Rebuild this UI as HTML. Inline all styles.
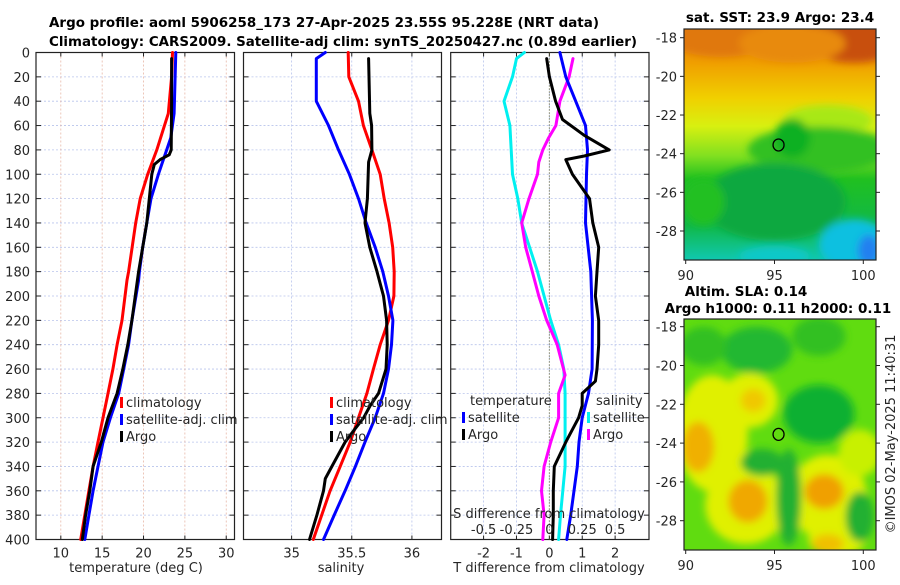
<!DOCTYPE html>
<html><head><meta charset="utf-8">
<style>
html,body{margin:0;padding:0;background:#fff;}
svg text{font-family:"DejaVu Sans","Liberation Sans",sans-serif;fill:#262626;}
.b{font-weight:bold;fill:#000;}
</style></head>
<body>
<svg id="chart" xmlns="http://www.w3.org/2000/svg" width="900" height="580" viewBox="0 0 900 580">
<defs>
<filter id="blur6" x="-50%" y="-50%" width="200%" height="200%"><feGaussianBlur stdDeviation="7"/></filter>
<filter id="blur3" x="-50%" y="-50%" width="200%" height="200%"><feGaussianBlur stdDeviation="4"/></filter>
<clipPath id="clipMap1"><rect x="684" y="29" width="192" height="231"/></clipPath>
<clipPath id="clipMap2"><rect x="684" y="319" width="192" height="231"/></clipPath>
<linearGradient id="sstGrad" x1="0" y1="0" x2="0" y2="1">
<stop offset="0" stop-color="#e8800a"/>
<stop offset="0.15" stop-color="#f0a000"/>
<stop offset="0.3" stop-color="#f0d000"/>
<stop offset="0.42" stop-color="#d8f010"/>
<stop offset="0.55" stop-color="#80e020"/>
<stop offset="0.65" stop-color="#20c020"/>
<stop offset="0.85" stop-color="#10b848"/>
<stop offset="1" stop-color="#10c8b0"/>
</linearGradient>
</defs>
<text class="b" x="324" y="27" font-size="13.5" text-anchor="middle" textLength="550" lengthAdjust="spacingAndGlyphs">Argo profile: aoml 5906258_173 27-Apr-2025 23.55S 95.228E (NRT data)</text>
<text class="b" x="343" y="46" font-size="13.5" text-anchor="middle" textLength="588" lengthAdjust="spacingAndGlyphs">Climatology: CARS2009. Satellite-adj clim: synTS_20250427.nc (0.89d earlier)</text>
<g id="plots"></g>
<g id="maps"></g>
</svg>
<script>
// ---------- DATA ----------
const depthTicks = [0,20,40,60,80,100,120,140,160,180,200,220,240,260,280,300,320,340,360,380,400];
const tempTicks = [10,15,20,25,30];
const salTicks = [35,35.5,36];
const tdiffTicks = [-2,-1,0,1,2];
const sdiffTickLabels = ["-0.5","-0.25","0","0.25","0.5"];
const sdiffTicks = [-0.5,-0.25,0,0.25,0.5];

const climDepth = [0,20,50,80,100,120,140,180,187,220,240,260,280,300,320,340,360,380,400];
const climTemp  = [23.5,23.4,23.0,21.6,20.5,19.6,19.05,18.2,18.0,17.4,16.8,16.3,15.7,15.1,14.5,13.9,13.4,12.9,12.4];

const satTDepth = [0,50,70,80,90,100,120,140,160,180,187,220,240,260,280,300,320,340,360,380,400];
const satTemp   = [23.9,23.7,23.3,22.8,22.3,21.8,20.9,20.4,19.9,19.5,19.4,18.6,18.2,17.6,17.0,16.0,15.1,14.5,13.9,13.4,12.9];

const argoTDepth = [5,40,80,84,88,92,100,120,140,160,180,220,240,260,280,300,320,340,360,380,400];
const argoTemp   = [23.4,23.4,23.35,23.1,22.0,21.3,21.0,20.7,20.4,19.9,19.4,18.6,18.1,17.5,16.8,15.7,14.9,13.9,13.5,13.0,12.6];

const climSDepth = [0,20,40,60,80,100,120,140,160,180,200,220,240,260,280,300,320,340,360,380,400];
const climSal    = [35.47,35.475,35.556,35.597,35.667,35.736,35.77,35.81,35.84,35.853,35.85,35.805,35.736,35.68,35.626,35.556,35.487,35.404,35.32,35.25,35.18];

const satSDepth = [0,5,40,60,80,100,120,140,160,180,200,220,240,260,280,300,320,340,360,380,400];
const satSal    = [35.28,35.205,35.205,35.307,35.39,35.48,35.556,35.62,35.695,35.758,35.805,35.842,35.83,35.805,35.764,35.695,35.61,35.53,35.445,35.354,35.265];

const argoSDepth = [5,50,60,80,90,120,140,160,180,200,220,240,260,280,290,300,310,320,340,350,360,380,400];
const argoSal    = [35.64,35.65,35.665,35.667,35.64,35.63,35.61,35.65,35.71,35.764,35.79,35.795,35.785,35.722,35.653,35.598,35.52,35.445,35.335,35.28,35.265,35.21,35.149];

const satTdDepth = [0,20,40,60,80,100,140,180,220,260,280,300,320,340,360,380,400];
const satTdiff   = [0.32,0.5,0.8,1.1,1.16,1.13,1.1,1.26,1.31,1.3,1.19,1.0,0.9,0.85,0.75,0.65,0.53];

const argoTdDepth = [5,20,40,55,68,80,85,88,100,120,140,160,180,200,220,240,260,270,280,290,300,320,340,360,380,400];
const argoTdiff   = [-0.08,0.0,0.19,0.4,1.06,1.82,1.06,0.5,0.7,1.22,1.32,1.5,1.45,1.4,1.5,1.5,1.45,1.4,1.0,1.0,0.89,0.5,0.15,0.12,0.12,0.1];

const satSdDepth = [0,5,20,40,60,80,100,120,140,160,180,200,220,240,260,280,300,340,380,400];
const satSdiff   = [-0.19,-0.25,-0.28,-0.345,-0.3,-0.29,-0.28,-0.24,-0.21,-0.15,-0.09,-0.04,0.01,0.07,0.11,0.12,0.12,0.12,0.085,0.07];

const argoSdDepth = [5,20,40,60,70,80,90,100,120,140,160,180,200,220,240,265,280,300,320,340,360,380,400];
const argoSdiff   = [0.18,0.15,0.08,0.05,-0.005,-0.05,-0.08,-0.09,-0.155,-0.21,-0.18,-0.13,-0.08,-0.02,0.06,0.12,0.07,0.07,0.01,-0.04,-0.06,-0.04,-0.05];

// ---------- HELPERS ----------
const NS = "http://www.w3.org/2000/svg";
const plots = document.getElementById('plots');
function mk(tag, attrs, parent){
  const e = document.createElementNS(NS, tag);
  for (const k in attrs) e.setAttribute(k, attrs[k]);
  (parent||plots).appendChild(e);
  return e;
}
const TOP = 52.5, BOT = 539.5;
function yDepth(d){ return TOP + d*(BOT-TOP)/400; }

function panel(name, x0, x1, xmin, xmax){
  const g = mk('g', {});
  
  
  const xs = v => x0 + (v-xmin)*(x1-x0)/(xmax-xmin);
  return {g, xs, x0, x1};
}

function frame(p, xticks, xlabels, gridColor, showDepthLabels){
  depthTicks.forEach(d => {
    if (d===0||d===400) return;
    const l = mk('line', {x1:p.x0, x2:p.x1, y1:yDepth(d), y2:yDepth(d), stroke:'#b8c4ec', 'stroke-width':0.8, 'stroke-dasharray':'2,2'}, p.g);
    
    
  });
  xticks.forEach((v,i) => {
    const x = p.xs(v);
    const l = mk('line', {x1:x, x2:x, y1:TOP, y2:BOT, stroke:gridColor, 'stroke-width':0.8, 'stroke-dasharray':'2,2'}, p.g);
    
    
    mk('line', {x1:x, x2:x, y1:BOT, y2:BOT-4, stroke:'#222', 'stroke-width':1}, p.g);
    mk('line', {x1:x, x2:x, y1:TOP, y2:TOP+4, stroke:'#222', 'stroke-width':1}, p.g);
    if (xlabels){
      const t = mk('text', {x:x, y:BOT+18, 'font-size':13, 'text-anchor':'middle'}, p.g);
      t.textContent = xlabels[i];
      
      
    }
  });
  depthTicks.forEach(d => {
    const y = yDepth(d);
    mk('line', {x1:p.x0, x2:p.x0+5, y1:y, y2:y, stroke:'#222', 'stroke-width':1}, p.g);
    mk('line', {x1:p.x1, x2:p.x1-5, y1:y, y2:y, stroke:'#222', 'stroke-width':1}, p.g);
    if (showDepthLabels){
      const t = mk('text', {x:30, y:y+5, 'font-size':13, 'text-anchor':'end'}, p.g);
      t.textContent = d;
      
      
    }
  });
  const r = mk('rect', {x:p.x0, y:TOP, width:p.x1-p.x0, height:BOT-TOP, fill:'none', stroke:'#222', 'stroke-width':1.2}, p.g);
  
  
}

function series(p, depths, vals, color, name, scale){
  const sc = scale||1;
  const pts = depths.map((d,i)=> p.xs(vals[i]*sc).toFixed(1)+','+yDepth(d).toFixed(1)).join(' ');
  const l = mk('polyline', {points:pts, fill:'none', stroke:color, 'stroke-width':3, 'stroke-linejoin':'round', 'stroke-linecap':'round'}, p.g);
  
  
}

function legendItem(g, x, y, color, label, name){
  const r = mk('rect', {x:x, y:y-10, width:3, height:11, fill:color}, g);
  
  
  const t = mk('text', {x:x+6, y:y, 'font-size':13}, g);
  t.textContent = label;
  
  
}
function label(g, x, y, txt, name, anchor, size){
  const t = mk('text', {x:x, y:y, 'font-size':size||13, 'text-anchor':anchor||'middle'}, g);
  t.textContent = txt;
  
  
  return t;
}

// ---------- PANEL 1: temperature ----------
const p1 = panel('temperature-panel', 36, 234.5, 7, 31);
frame(p1, tempTicks, tempTicks.map(String), '#e8b8a8', true);
series(p1, climDepth, climTemp, '#ff0000', 'climatology-temperature-line');
series(p1, satTDepth, satTemp, '#0000ff', 'satellite-temperature-line');
series(p1, argoTDepth, argoTemp, '#000000', 'argo-temperature-line');
legendItem(p1.g, 120, 407, '#ff0000', 'climatology', 'legend-climatology');
legendItem(p1.g, 120, 424, '#0000ff', 'satellite-adj. clim', 'legend-satellite');
legendItem(p1.g, 120, 441, '#000000', 'Argo', 'legend-argo');
label(p1.g, 136, 572, 'temperature (deg C)', 'x-axis-title-temperature');

// ---------- PANEL 2: salinity ----------
const p2 = panel('salinity-panel', 243.5, 441.5, 34.6, 36.246);
frame(p2, salTicks, salTicks.map(String), '#b8c4ec', false);
series(p2, climSDepth, climSal, '#ff0000', 'climatology-salinity-line');
series(p2, satSDepth, satSal, '#0000ff', 'satellite-salinity-line');
series(p2, argoSDepth, argoSal, '#000000', 'argo-salinity-line');
legendItem(p2.g, 330, 407, '#ff0000', 'climatology', 'legend-climatology');
legendItem(p2.g, 330, 424, '#0000ff', 'satellite-adj. clim', 'legend-satellite');
legendItem(p2.g, 330, 441, '#000000', 'Argo', 'legend-argo');
label(p2.g, 341, 572, 'salinity', 'x-axis-title-salinity');

// ---------- PANEL 3: differences ----------
const p3 = panel('difference-panel', 450.7, 649, -3, 3.03);
frame(p3, tdiffTicks, tdiffTicks.map(String), '#b8c4ec', false);
const zl = mk('line', {x1:p3.xs(0), x2:p3.xs(0), y1:TOP, y2:BOT, stroke:'#555522', 'stroke-width':1, 'stroke-dasharray':'1,2'}, p3.g);


series(p3, satSdDepth, satSdiff, '#00f0f0', 'satellite-salinity-diff-line', 4);
series(p3, argoSdDepth, argoSdiff, '#ff00ff', 'argo-salinity-diff-line', 4);
series(p3, satTdDepth, satTdiff, '#0000ff', 'satellite-temperature-diff-line');
series(p3, argoTdDepth, argoTdiff, '#000000', 'argo-temperature-diff-line');
label(p3.g, 470, 405, 'temperature', 'legend-temperature-header', 'start');
label(p3.g, 596, 405, 'salinity', 'legend-salinity-header', 'start');
legendItem(p3.g, 462, 422, '#0000ff', 'satellite', 'legend-t-satellite');
legendItem(p3.g, 462, 439, '#000000', 'Argo', 'legend-t-argo');
legendItem(p3.g, 587, 422, '#00f0f0', 'satellite', 'legend-s-satellite');
legendItem(p3.g, 587, 439, '#ff00ff', 'Argo', 'legend-s-argo');
label(p3.g, 549, 518, 'S difference from climatology', 'salinity-diff-axis-title');
sdiffTicks.forEach((v,i)=> label(p3.g, p3.xs(v*4), 534, sdiffTickLabels[i], 'salinity-diff-tick-label'));
label(p3.g, 549, 572, 'T difference from climatology', 'x-axis-title-temperature-diff');

// ---------- MAPS ----------
const mapsG = document.getElementById('maps');
const lonTicks = [90,95,100];
const latTicks = [-18,-20,-22,-24,-26,-28];
const argoLon = 95.228, argoLat = -23.55;
const sstBlobs = [ // [lon, lat, rx(deg), ry(deg), color]
  [99.5,-17.8,3,1.5,'#c85008'],[92,-18,3,1,'#e07808'],[96,-18.3,3,1,'#e88a08'],
  [98,-22.3,2.5,0.8,'#a8e818'],[97.5,-23.8,4,1.2,'#30c020'],[96,-23.2,1,1,'#10b020'],[95,-26.5,4,2,'#10a840'],
  [91,-26.5,1.2,1.2,'#20c020'],[99.5,-28.7,2,1.3,'#10c0e0'],[95,-29.3,2,0.5,'#10c8c8'],[100.3,-29,0.6,0.8,'#2080f0']
];
const slaBlobs = [
  [91.5,-23.5,2.0,3.0,'#e0f000'],[93.6,-21.8,1.6,1.4,'#e0f000'],[93.4,-27.2,2.3,2.0,'#e0f000'],
  [98.0,-26.8,2.2,2.2,'#e0f000'],[98.5,-29,1.6,0.8,'#e0f000'],[99.8,-24.5,1.2,1.2,'#c8f000'],
  [90.7,-24.2,0.9,1.3,'#f0b000'],[93.5,-27,1.1,1.1,'#f0a800'],[97.8,-26.5,1.1,0.9,'#f0a000'],[98,-29.2,0.9,0.5,'#f0c000'],[93.8,-21.8,0.7,0.6,'#f0c800'],
  [97.5,-22.5,2,1.5,'#10b030'],[94,-19.2,2,1.2,'#20b830'],[91,-19,1.3,1,'#30c020'],
  [95.8,-26.8,0.7,2.5,'#20b030'],[94.3,-25,1.2,0.7,'#20b030'],[99.8,-27.8,0.8,1.3,'#20b030'],[97.5,-18.5,1.5,1,'#30c020']
];

function mapPanel(name, y0, lat0, lat1, titleLines, clipId, isSST){
  const g = mk('g', {}, mapsG);
  
  
  const X0=684, X1=876, Y1=y0+231;
  const xs = lon => 685.7 + (lon-90)*17.76;
  const ys = lat => (lat0) + (-18-lat)*(lat1-lat0)/10;
  const inner = mk('g', {'clip-path':'url(#'+clipId+')'}, g);
  if (isSST){
    mk('rect', {x:X0, y:y0, width:192, height:231, fill:'url(#sstGrad)'}, inner);
  } else {
    mk('rect', {x:X0, y:y0, width:192, height:231, fill:'#60dc10'}, inner);
  }
  const blobs = mk('g', {filter:'url(#blur3)'}, inner);
  (isSST?sstBlobs:slaBlobs).forEach(b=>{
    const e = mk('ellipse', {cx:xs(b[0]), cy:ys(b[1]), rx:b[2]*17.76, ry:b[3]*19.4, fill:b[4]}, blobs);
    
    
  });
  const c = mk('ellipse', {cx:xs(argoLon), cy:ys(argoLat), rx:5.5, ry:6, fill:'none', stroke:'#000', 'stroke-width':1.3}, g);
  
  
  mk('rect', {x:X0, y:y0, width:192, height:231, fill:'none', stroke:'#222', 'stroke-width':1.2}, g);
  latTicks.forEach(l=>{
    const y = ys(l);
    mk('line', {x1:X0-4, x2:X0, y1:y, y2:y, stroke:'#222'}, g);
    mk('line', {x1:X1, x2:X1+4, y1:y, y2:y, stroke:'#222'}, g);
    label(g, X0-7, y+5, String(l), 'latitude-tick-label', 'end');
  });
  lonTicks.forEach(l=>{
    const x = xs(l);
    mk('line', {x1:x, x2:x, y1:Y1, y2:Y1+4, stroke:'#222'}, g);
    label(g, x, Y1+20, String(l), 'longitude-tick-label');
  });
  titleLines.forEach((t,i)=>{
    const e = label(g, t[1], t[2], t[0], 'map-title', 'middle', 13.5);
    e.setAttribute('class','b');
  });
}
mapPanel('sst-map', 29, 37.7, 231, [['sat. SST: 23.9 Argo: 23.4', 780, 22]], 'clipMap1', true);
mapPanel('sla-map', 319, 326.7, 520.7, [['Altim. SLA: 0.14', 746, 296],['Argo h1000: 0.11 h2000: 0.11', 778, 313]], 'clipMap2', false);

const stamp = label(mapsG, 0, 0, '\u00a9IMOS 02-May-2025 11:40:31', 'timestamp');
stamp.setAttribute('transform', 'translate(895,434) rotate(-90)');
</script>
</body></html>
